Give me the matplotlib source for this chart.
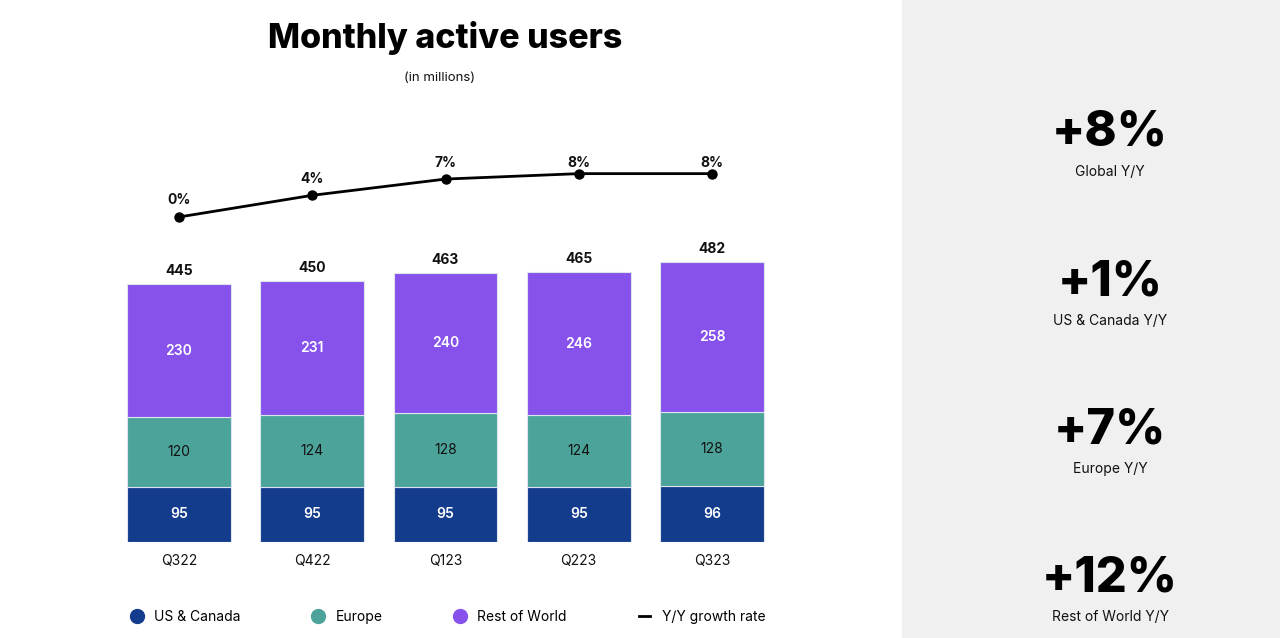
import numpy as np
import matplotlib
matplotlib.use("Agg")
import matplotlib.pyplot as plt
from matplotlib.lines import Line2D
from matplotlib.patches import Rectangle

plt.rcParams['font.family'] = ['Inter', 'DejaVu Sans']

quarters = ['Q322', 'Q422', 'Q123', 'Q223', 'Q323']
us_canada = [95, 95, 95, 95, 96]
europe = [120, 124, 128, 124, 128]
rest_of_world = [230, 231, 240, 246, 258]
totals = [445, 450, 463, 465, 482]
growth = [0, 4, 7, 8, 8]

kpi_values = ['+8%', '+1%', '+7%', '+12%']
kpi_labels = ['Global Y/Y', 'US & Canada Y/Y', 'Europe Y/Y', 'Rest of World Y/Y']

c_us = '#133C8C'
c_eu = '#4CA39A'
c_row = '#8652EB'

W, H = 1280, 638
fig = plt.figure(figsize=(W / 100, H / 100), dpi=100)
fig.patch.set_facecolor('white')

# grey side panel
fig.patches.append(Rectangle((902 / W, 0), 1 - 902 / W, 1, transform=fig.transFigure,
                             facecolor='#F0F0F0', edgecolor='none', zorder=0))

# bar axes: x from 112 to 779 px, y from 542 (bottom) to 130 px
left, right, bottom, top = 112.4, 778.6, 542, 130
ax = fig.add_axes([left / W, 1 - bottom / H, (right - left) / W, (bottom - top) / H])
ax.set_xlim(-0.5, 4.5)
ax.set_ylim(0, (bottom - top) / 0.58)
ax.axis('off')

x = np.arange(len(quarters))
bw = 0.78
ax.bar(x, us_canada, bw, color=c_us, edgecolor='#DDE4EE', linewidth=0.8)
ax.bar(x, europe, bw, bottom=us_canada, color=c_eu, edgecolor='#DDE4EE', linewidth=0.8)
b2 = np.array(us_canada) + np.array(europe)
ax.bar(x, rest_of_world, bw, bottom=b2, color=c_row, edgecolor='#DDE4EE', linewidth=0.8)

for i in range(len(quarters)):
    ax.text(x[i], us_canada[i] / 2, str(us_canada[i]), ha='center', va='center',
            color='white', fontsize=10, fontweight='semibold')
    ax.text(x[i], us_canada[i] + europe[i] / 2, str(europe[i]), ha='center', va='center',
            color='#111111', fontsize=10)
    ax.text(x[i], b2[i] + rest_of_world[i] / 2, str(rest_of_world[i]), ha='center', va='center',
            color='white', fontsize=10, fontweight='semibold')
    ax.text(x[i], totals[i] + 13 / 0.58, str(totals[i]), ha='center', va='center',
            color='#111111', fontsize=10, fontweight='bold')
    ax.text(x[i], -19.5 / 0.58, quarters[i], ha='center', va='center',
            color='#111111', fontsize=10)

# growth line on twin axis
ax2 = ax.twinx()
ax2.set_ylim(-325 / 5.42, 87 / 5.42)
ax2.axis('off')
ax2.plot(x, growth, color='black', lw=2, marker='o', ms=6.5)
for i in range(len(quarters)):
    ly = min(growth[i], 7) + 16.5 / 5.42
    ax2.text(x[i], ly, '%d%%' % growth[i], ha='center', va='center',
             fontsize=10, fontweight='bold', color='#111111')

# titles
fig.text(445 / W, 1 - 38 / H, 'Monthly active users', ha='center', va='center',
         fontsize=24.5, fontweight='heavy', color='black')
fig.text(440 / W, 1 - 78 / H, '(in millions)', ha='center', va='center',
         fontsize=9.5, color='#111111')

# legend
handles = [
    Line2D([], [], ls='none', marker='o', ms=10, color=c_us),
    Line2D([], [], ls='none', marker='o', ms=10, color=c_eu),
    Line2D([], [], ls='none', marker='o', ms=10, color=c_row),
    Line2D([], [], color='black', lw=2),
]
fig.legend(handles, ['US & Canada', 'Europe', 'Rest of World', 'Y/Y growth rate'],
           loc='center left', bbox_to_anchor=(119 / W, 1 - 617 / H), ncol=4,
           frameon=False, fontsize=10, handlelength=0.8, handletextpad=0.83,
           columnspacing=5.2)

# KPI panel
kpi_y = [133, 282, 430, 578]
for v, lab, yy in zip(kpi_values, kpi_labels, kpi_y):
    fig.text(1110 / W, 1 - yy / H, v, ha='center', va='center',
             fontsize=35, fontweight='heavy', color='black')
    fig.text(1110 / W, 1 - (yy + 39) / H, lab, ha='center', va='center',
             fontsize=10, color='#111111')

fig.savefig('out.png', dpi=100)
